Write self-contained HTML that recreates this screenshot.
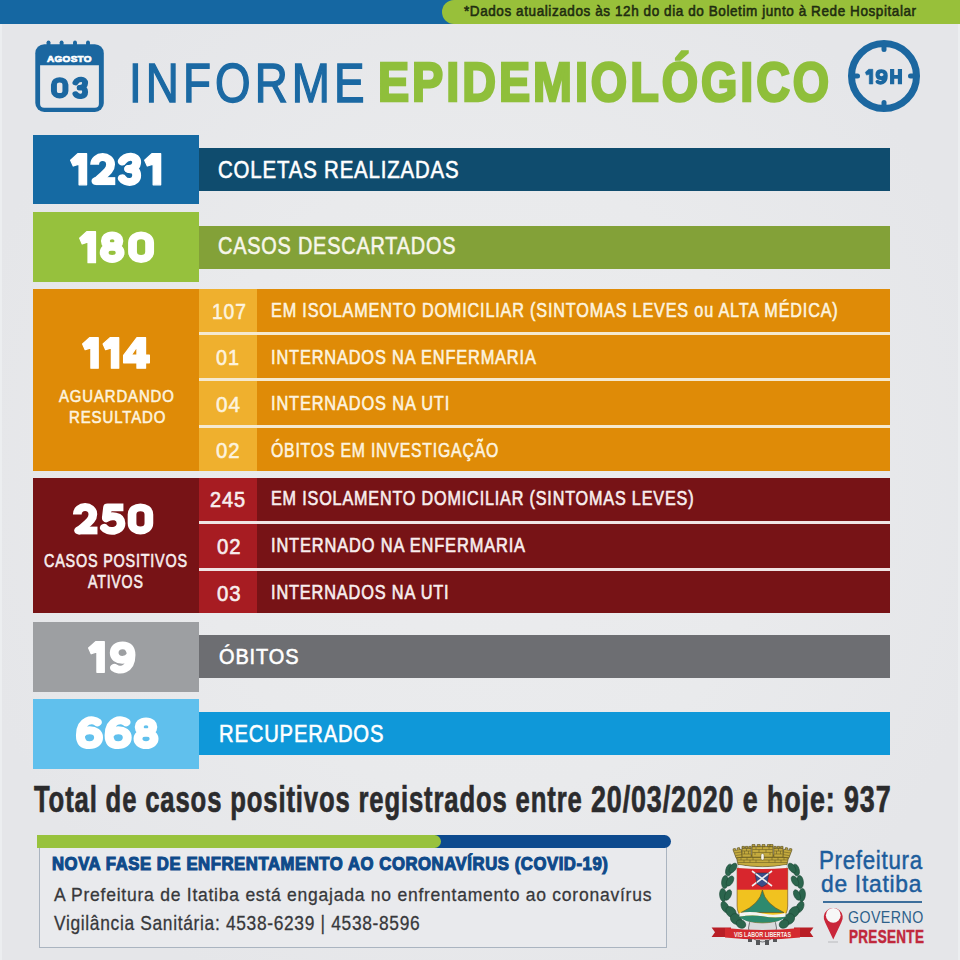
<!DOCTYPE html>
<html><head><meta charset="utf-8">
<style>
html,body{margin:0;padding:0;}
body{width:960px;height:960px;position:relative;overflow:hidden;background:radial-gradient(ellipse 55% 60% at 50% 50%, #ebecee 0%, #e9eaec 55%, #e5e6e9 100%);font-family:"Liberation Sans",sans-serif;}
.a{position:absolute;}
.t{position:absolute;white-space:nowrap;line-height:1;transform-origin:0 0;font-family:"Liberation Sans",sans-serif;}
</style></head>
<body>
<!-- edge strips -->
<div class="a" style="left:0;top:0;width:2px;height:960px;background:#eceef0"></div>
<div class="a" style="left:958px;top:0;width:2px;height:960px;background:#eceef0"></div>
<!-- top bar -->
<div class="a" style="left:0;top:0;width:960px;height:24px;background:#1567a2"></div>
<div class="a" style="left:442px;top:0px;width:518px;height:24px;background:#98c03a;border-radius:12px 0 0 12px"></div>

<!-- calendar icon -->
<svg class="a" style="left:30px;top:36px" width="80" height="80" viewBox="0 0 80 80">
  <g fill="#1b67a0">
    <circle cx="18.5" cy="6.5" r="1.9"/><circle cx="31.6" cy="6.5" r="1.9"/><circle cx="45" cy="6.5" r="1.9"/><circle cx="58" cy="6.5" r="1.9"/>
    <rect x="16.6" y="6.5" width="3.8" height="3"/><rect x="29.7" y="6.5" width="3.8" height="3"/><rect x="43.1" y="6.5" width="3.8" height="3"/><rect x="56.1" y="6.5" width="3.8" height="3"/>
  </g>
  <rect x="5.3" y="8.2" width="68.5" height="67.8" rx="9" fill="#1b67a0"/>
  <path d="M10.1 29.2 H68.9 V67.7 Q68.9 71.7 64.9 71.7 H14.1 Q10.1 71.7 10.1 67.7 Z" fill="#e7e8ea"/>
</svg>
<!-- clock icon -->
<svg class="a" style="left:840px;top:30px" width="90" height="90" viewBox="0 0 90 90">
  <circle cx="44" cy="46" r="32.5" fill="none" stroke="#1b67a0" stroke-width="7"/>
  <g fill="#1b67a0">
    <rect x="41.5" y="14" width="5" height="8" rx="2.5"/>
    <rect x="41.5" y="70" width="5" height="8" rx="2.5"/>
    <rect x="12" y="43.5" width="8" height="5" rx="2.5"/>
    <rect x="68" y="43.5" width="8" height="5" rx="2.5"/>
  </g>
</svg>

<!-- row 1 -->
<div class="a" style="left:33px;top:135px;width:166px;height:69px;background:#156aa3"></div>
<div class="a" style="left:199px;top:148px;width:691px;height:43px;background:#0f4c6e"></div>
<!-- row 2 -->
<div class="a" style="left:33px;top:212px;width:166px;height:70px;background:#96c13d"></div>
<div class="a" style="left:199px;top:226px;width:691px;height:43px;background:#83a138"></div>
<!-- row 3 orange -->
<div class="a" style="left:33px;top:289px;width:857px;height:182px;background:#df8b07"></div>
<div class="a" style="left:199px;top:289px;width:58px;height:182px;background:#efb02e"></div>
<div class="a" style="left:199px;top:332px;width:691px;height:3px;background:#f5e9cf"></div>
<div class="a" style="left:199px;top:378px;width:691px;height:3px;background:#f5e9cf"></div>
<div class="a" style="left:199px;top:425px;width:691px;height:3px;background:#f5e9cf"></div>
<!-- row 4 red -->
<div class="a" style="left:33px;top:478px;width:857px;height:135px;background:#771316"></div>
<div class="a" style="left:199px;top:478px;width:58px;height:135px;background:#a71c22"></div>
<div class="a" style="left:199px;top:521px;width:691px;height:3px;background:#f0e4e4"></div>
<div class="a" style="left:199px;top:568px;width:691px;height:3px;background:#f0e4e4"></div>
<!-- row 5 gray -->
<div class="a" style="left:33px;top:622px;width:166px;height:70px;background:#9d9fa2"></div>
<div class="a" style="left:199px;top:635px;width:691px;height:43px;background:#6d6e72"></div>
<!-- row 6 light blue -->
<div class="a" style="left:33px;top:699px;width:166px;height:70px;background:#60c0ed"></div>
<div class="a" style="left:199px;top:712px;width:691px;height:43px;background:#0f98d9"></div>

<!-- bottom info box -->
<div class="a" style="left:39px;top:841px;width:625.5px;height:105.7px;border:1.5px solid #aab4c0;border-top:none;background:#e9eaed"></div>
<div class="a" style="left:37px;top:835px;width:634px;height:12.5px;background:#0d4a8e;border-radius:0 6.5px 6.5px 0"></div>
<div class="a" style="left:37px;top:835px;width:404px;height:12.5px;background:#98c23c;border-radius:0 6.5px 6.5px 0"></div>

<!-- coat of arms -->
<svg class="a" style="left:705px;top:840px" width="115" height="110" viewBox="0 0 115 110">
  <!-- laurel left -->
  <g fill="#2b654d" stroke="#1d4a38" stroke-width="0.6">
    <ellipse cx="24" cy="30" rx="3.2" ry="6" transform="rotate(15 24 30)"/>
    <ellipse cx="28" cy="28" rx="3" ry="5.5" transform="rotate(35 28 28)"/>
    <ellipse cx="20" cy="42" rx="3.4" ry="6.5" transform="rotate(5 20 42)"/>
    <ellipse cx="25" cy="41" rx="3" ry="5.5" transform="rotate(30 25 41)"/>
    <ellipse cx="18" cy="55" rx="3.4" ry="6.5" transform="rotate(-5 18 55)"/>
    <ellipse cx="23" cy="55" rx="3" ry="5.5" transform="rotate(25 23 55)"/>
    <ellipse cx="20" cy="67" rx="3.4" ry="6" transform="rotate(-25 20 67)"/>
    <ellipse cx="26" cy="72" rx="4.5" ry="6" transform="rotate(-40 26 72)"/>
    <ellipse cx="31" cy="79" rx="5" ry="6" transform="rotate(-50 31 79)"/>
    <ellipse cx="36" cy="84" rx="4" ry="5" transform="rotate(-60 36 84)"/>
  </g>
  <!-- laurel right -->
  <g fill="#2b654d" stroke="#1d4a38" stroke-width="0.6" transform="translate(115 0) scale(-1 1)">
    <ellipse cx="24" cy="30" rx="3.2" ry="6" transform="rotate(15 24 30)"/>
    <ellipse cx="28" cy="28" rx="3" ry="5.5" transform="rotate(35 28 28)"/>
    <ellipse cx="20" cy="42" rx="3.4" ry="6.5" transform="rotate(5 20 42)"/>
    <ellipse cx="25" cy="41" rx="3" ry="5.5" transform="rotate(30 25 41)"/>
    <ellipse cx="18" cy="55" rx="3.4" ry="6.5" transform="rotate(-5 18 55)"/>
    <ellipse cx="23" cy="55" rx="3" ry="5.5" transform="rotate(25 23 55)"/>
    <ellipse cx="20" cy="67" rx="3.4" ry="6" transform="rotate(-25 20 67)"/>
    <ellipse cx="26" cy="72" rx="4.5" ry="6" transform="rotate(-40 26 72)"/>
    <ellipse cx="31" cy="79" rx="5" ry="6" transform="rotate(-50 31 79)"/>
    <ellipse cx="36" cy="84" rx="4" ry="5" transform="rotate(-60 36 84)"/>
  </g>
  <!-- gear -->
  <g fill="#d9dadc" stroke="#55575a" stroke-width="0.8">
    <circle cx="57.5" cy="88" r="14"/>
  </g>
  <g fill="#55575a">
    <rect x="43" y="97" width="4" height="5"/><rect x="51" y="100" width="4" height="5"/><rect x="60" y="100" width="4" height="5"/><rect x="68" y="97" width="4" height="5"/>
  </g>
  <!-- shield -->
  <path d="M32.1 28.2 H82.7 V66 Q82.7 82.7 57.4 82.9 Q32.1 82.7 32.1 66 Z" fill="#f1c21f" stroke="#6b4a1c" stroke-width="0.6"/>
  <rect x="32.1" y="28.2" width="50.6" height="21.5" fill="#d8262d"/>
  <path d="M57.4 50 Q55 64 36 72.5 L79 72.5 Q60 64 57.4 50 Z" fill="#2e8a6e" stroke="#5b4b1c" stroke-width="0.6"/>
  <path d="M34.5 73 Q46 71 57.5 73.5 Q69 76 80.5 73 V76.8 Q69 78.5 57.5 76.3 Q46 74.5 34.5 76.8 Z" fill="#f4f4f2"/>
  <path d="M34.5 76.8 Q46 74.5 57.5 76.3 Q69 78.5 80.5 76.8 Q76 82.6 57.4 82.8 Q39 82.6 34.5 76.8 Z" fill="#2e8a6e"/>
  <!-- emblem -->
  <path d="M50 33 L64 33 L62 44 L57 47 L52 44 Z" fill="#3a4f8a"/>
  <path d="M47 31 L67 46 M67 31 L47 46" stroke="#f0f0f0" stroke-width="1.6"/>
  <path d="M50 33 L64 33 L62 44 L57 47 L52 44 Z" fill="none" stroke="#2a2a3a" stroke-width="0.5"/>
  <!-- crown -->
  <g fill="#c4aa3e" stroke="#5b5020" stroke-width="0.7" stroke-linejoin="round">
    <path d="M31 15 H84 L82 24.5 Q57.5 29 33 24.5 Z"/>
    <path d="M28.3 10.6 L36.2 9.2 L37.6 17 L31.2 18.2 Z"/>
    <path d="M86.7 10.6 L78.8 9.2 L77.4 17 L83.8 18.2 Z"/>
    <rect x="37" y="8.2" width="9.2" height="9"/>
    <rect x="68.8" y="8.2" width="9.2" height="9"/>
    <rect x="47" y="6.6" width="21" height="10.6"/>
    <path d="M28.3 10.6 L28.1 8.9 L30.3 8.5 L30.5 9.9 M32.4 9.6 L32.2 8 L34.4 7.6 L34.6 9.3"/>
    <path d="M86.7 10.6 L86.9 8.9 L84.7 8.5 L84.5 9.9 M82.6 9.6 L82.8 8 L80.6 7.6 L80.4 9.3"/>
    <rect x="37" y="6.4" width="2.4" height="1.8"/><rect x="40.4" y="6.4" width="2.4" height="1.8"/><rect x="43.8" y="6.4" width="2.4" height="1.8"/>
    <rect x="68.8" y="6.4" width="2.4" height="1.8"/><rect x="72.2" y="6.4" width="2.4" height="1.8"/><rect x="75.6" y="6.4" width="2.4" height="1.8"/>
    <rect x="47" y="4.6" width="3" height="2"/><rect x="52.2" y="4.6" width="3" height="2"/><rect x="57.5" y="4.6" width="3" height="2" transform="translate(-0.5 0)"/><rect x="62.3" y="4.6" width="3" height="2"/><rect x="65" y="4.6" width="3" height="2"/>
  </g>
  <g stroke="#6d6024" stroke-width="0.6" fill="none">
    <path d="M37.5 11 H45.7 M69.3 11 H77.5 M47.5 9.5 H67.5 M47.5 12.5 H67.5 M37.5 14 H45.7 M69.3 14 H77.5 M32 20 H83 M33 22.5 H82 M31.5 17.5 H83.5 M29.5 13 L36.5 12 M85.5 13 L78.5 12 M30.5 15.6 L37 14.6 M84.5 15.6 L78 14.6"/>
    <path d="M41.5 8.2 V11 M39.5 11 V14 M43.5 11 V14 M73.5 8.2 V11 M71.5 11 V14 M75.5 11 V14 M51 6.6 V9.5 M57.5 6.6 V9.5 M64 6.6 V9.5 M54 9.5 V12.5 M61 9.5 V12.5 M50 12.5 V15 M65 12.5 V15 M36 17.5 V20 M42 17.5 V20 M48 17.5 V20 M67 17.5 V20 M73 17.5 V20 M79 17.5 V20 M39 20 V22.5 M45 20 V22.5 M51 20 V22.5 M64 20 V22.5 M70 20 V22.5 M76 20 V22.5"/>
  </g>
  <rect x="56" y="13.5" width="3" height="6.5" rx="1.5" fill="#f8f6ee" stroke="#5b5020" stroke-width="0.4"/>
  <path d="M34 25 Q57.5 29.5 81 25 L81 28 Q57.5 30 34 28 Z" fill="#efefed"/>
  <!-- ribbon -->
  <path d="M6.6 87.4 L26 87.4 L26 97 L6.6 97 L10 92.2 Z" fill="#b81e26"/>
  <path d="M108.4 87.4 L89 87.4 L89 97 L108.4 97 L105 92.2 Z" fill="#b81e26"/>
  <path d="M20 88 Q57.5 92 95 88 L95 97.5 Q57.5 101.5 20 97.5 Z" fill="#d42a2f"/>
  <text x="29" y="97.3" font-family="Liberation Sans" font-weight="700" font-size="6.6" fill="#f6efe9" textLength="57" lengthAdjust="spacingAndGlyphs">VIS  LABOR  LIBERTAS</text>
</svg>

<!-- pin icon -->
<svg class="a" style="left:820px;top:903px" width="28" height="42" viewBox="0 0 28 42">
  <path d="M13.25 36.4 L5.2 19.5 A9.5 9.5 0 1 1 21.3 19.5 Z" fill="#c9263a"/>
  <circle cx="13.25" cy="12.3" r="7.4" fill="#f7f7f7"/>
  <rect x="8" y="38.5" width="10" height="1" fill="#b9babd"/>
</svg>
<!-- blue line -->
<div class="a" style="left:822.5px;top:901px;width:99px;height:1.6px;background:#3d6f9c"></div>

<div class="t" style="left:464.27px;top:5.27px;font-size:13.88px;font-weight:400;color:#1f2d10;transform:scaleX(0.9731);-webkit-text-stroke:0.55px #1f2d10;letter-spacing:0.6px;">*Dados atualizados às 12h do dia do Boletim junto à Rede Hospitalar</div>
<div class="t" style="left:47.35px;top:53.63px;font-size:9.59px;font-weight:700;color:#fff;transform:scaleX(1.0400);-webkit-text-stroke:0.7px #fff;letter-spacing:0.3px;">AGOSTO</div>
<div class="t" style="left:128.67px;top:54.55px;font-size:55.81px;font-weight:400;color:#1b69a3;transform:scaleX(0.8200);-webkit-text-stroke:1.4px #1b69a3;letter-spacing:5px;">INFORME</div>
<div class="t" style="left:377.56px;top:55.02px;font-size:55.38px;font-weight:700;color:#8fbf3b;transform:scaleX(0.8439);-webkit-text-stroke:2.6px #8fbf3b;letter-spacing:3.5px;">EPIDEMIOLÓGICO</div>
<div class="t" style="left:218.40px;top:157.80px;font-size:23.98px;font-weight:400;color:#fff;transform:scaleX(0.8503);-webkit-text-stroke:0.6px #fff;letter-spacing:1.0px;">COLETAS REALIZADAS</div>
<div class="t" style="left:218.44px;top:234.08px;font-size:24.71px;font-weight:400;color:#f7f6ea;transform:scaleX(0.8046);-webkit-text-stroke:0.6px #f7f6ea;letter-spacing:1.0px;">CASOS DESCARTADOS</div>
<div class="t" style="left:59.26px;top:387.58px;font-size:17.15px;font-weight:400;color:#fdf3df;transform:scaleX(0.8705);-webkit-text-stroke:0.6px #fdf3df;letter-spacing:1.0px;">AGUARDANDO</div>
<div class="t" style="left:68.59px;top:408.68px;font-size:17.15px;font-weight:400;color:#fdf3df;transform:scaleX(0.8751);-webkit-text-stroke:0.6px #fdf3df;letter-spacing:1.0px;">RESULTADO</div>
<div class="t" style="left:212.20px;top:299.71px;font-size:22.67px;font-weight:400;color:#fdf3df;transform:scaleX(0.8513);-webkit-text-stroke:0.6px #fdf3df;letter-spacing:1.0px;">107</div>
<div class="t" style="left:270.82px;top:301.31px;font-size:19.48px;font-weight:400;color:#fdf3df;transform:scaleX(0.8322);-webkit-text-stroke:0.6px #fdf3df;letter-spacing:1.0px;">EM ISOLAMENTO DOMICILIAR (SINTOMAS LEVES ou ALTA MÉDICA)</div>
<div class="t" style="left:215.93px;top:346.21px;font-size:22.67px;font-weight:400;color:#fdf3df;transform:scaleX(0.8747);-webkit-text-stroke:0.6px #fdf3df;letter-spacing:1.0px;">01</div>
<div class="t" style="left:270.81px;top:347.81px;font-size:19.48px;font-weight:400;color:#fdf3df;transform:scaleX(0.8405);-webkit-text-stroke:0.6px #fdf3df;letter-spacing:1.0px;">INTERNADOS NA ENFERMARIA</div>
<div class="t" style="left:215.95px;top:392.71px;font-size:22.67px;font-weight:400;color:#fdf3df;transform:scaleX(0.9127);-webkit-text-stroke:0.6px #fdf3df;letter-spacing:1.0px;">04</div>
<div class="t" style="left:270.81px;top:394.31px;font-size:19.48px;font-weight:400;color:#fdf3df;transform:scaleX(0.8416);-webkit-text-stroke:0.6px #fdf3df;letter-spacing:1.0px;">INTERNADOS NA UTI</div>
<div class="t" style="left:216.15px;top:439.11px;font-size:22.67px;font-weight:400;color:#fdf3df;transform:scaleX(0.8987);-webkit-text-stroke:0.6px #fdf3df;letter-spacing:1.0px;">02</div>
<div class="t" style="left:270.64px;top:440.71px;font-size:19.48px;font-weight:400;color:#fdf3df;transform:scaleX(0.8108);-webkit-text-stroke:0.6px #fdf3df;letter-spacing:1.0px;">ÓBITOS EM INVESTIGAÇÃO</div>
<div class="t" style="left:44.42px;top:553.27px;font-size:17.88px;font-weight:400;color:#f8eeee;transform:scaleX(0.8049);-webkit-text-stroke:0.6px #f8eeee;letter-spacing:1.0px;">CASOS POSITIVOS</div>
<div class="t" style="left:88.23px;top:574.27px;font-size:17.88px;font-weight:400;color:#f8eeee;transform:scaleX(0.7932);-webkit-text-stroke:0.6px #f8eeee;letter-spacing:1.0px;">ATIVOS</div>
<div class="t" style="left:209.87px;top:487.51px;font-size:22.67px;font-weight:400;color:#f8eeee;transform:scaleX(0.8792);-webkit-text-stroke:0.6px #f8eeee;letter-spacing:1.0px;">245</div>
<div class="t" style="left:270.82px;top:489.11px;font-size:19.48px;font-weight:400;color:#f8eeee;transform:scaleX(0.8305);-webkit-text-stroke:0.6px #f8eeee;letter-spacing:1.0px;">EM ISOLAMENTO DOMICILIAR (SINTOMAS LEVES)</div>
<div class="t" style="left:217.15px;top:534.51px;font-size:22.67px;font-weight:400;color:#f8eeee;transform:scaleX(0.8987);-webkit-text-stroke:0.6px #f8eeee;letter-spacing:1.0px;">02</div>
<div class="t" style="left:270.81px;top:536.11px;font-size:19.48px;font-weight:400;color:#f8eeee;transform:scaleX(0.8437);-webkit-text-stroke:0.6px #f8eeee;letter-spacing:1.0px;">INTERNADO NA ENFERMARIA</div>
<div class="t" style="left:217.13px;top:581.71px;font-size:22.67px;font-weight:400;color:#f8eeee;transform:scaleX(0.9006);-webkit-text-stroke:0.6px #f8eeee;letter-spacing:1.0px;">03</div>
<div class="t" style="left:270.81px;top:583.31px;font-size:19.48px;font-weight:400;color:#f8eeee;transform:scaleX(0.8387);-webkit-text-stroke:0.6px #f8eeee;letter-spacing:1.0px;">INTERNADOS NA UTI</div>
<div class="t" style="left:219.17px;top:645.53px;font-size:22.53px;font-weight:400;color:#fff;transform:scaleX(0.8863);-webkit-text-stroke:0.6px #fff;letter-spacing:1.0px;">ÓBITOS</div>
<div class="t" style="left:219.21px;top:722.40px;font-size:23.98px;font-weight:400;color:#fff;transform:scaleX(0.8424);-webkit-text-stroke:0.6px #fff;letter-spacing:1.0px;">RECUPERADOS</div>
<div class="t" style="left:34.35px;top:781.59px;font-size:36.34px;font-weight:700;color:#2b2b2d;transform:scaleX(0.7065);-webkit-text-stroke:0.7px #2b2b2d;letter-spacing:1.2px;">Total de casos positivos registrados entre</div>
<div class="t" style="left:591.02px;top:781.59px;font-size:36.34px;font-weight:700;color:#2b2b2d;transform:scaleX(0.7400);-webkit-text-stroke:0.7px #2b2b2d;letter-spacing:1.2px;">20/03/2020 e hoje: 937</div>
<div class="t" style="left:52.18px;top:855.82px;font-size:17.88px;font-weight:700;color:#0f4a8a;transform:scaleX(0.9349);-webkit-text-stroke:1.1px #0f4a8a;letter-spacing:0.6px;">NOVA FASE DE ENFRENTAMENTO AO CORONAVÍRUS (COVID-19)</div>
<div class="t" style="left:53.74px;top:885.72px;font-size:18.46px;font-weight:400;color:#37383b;transform:scaleX(0.9491);-webkit-text-stroke:0.3px #37383b;letter-spacing:0.8px;">A Prefeitura de Itatiba está engajada no enfrentamento ao coronavírus</div>
<div class="t" style="left:53.72px;top:912.63px;font-size:20.93px;font-weight:400;color:#37383b;transform:scaleX(0.8312);-webkit-text-stroke:0.3px #37383b;letter-spacing:0.8px;">Vigilância Sanitária: 4538-6239 | 4538-8596</div>
<div class="t" style="left:819.46px;top:848.00px;font-size:25.58px;font-weight:400;color:#1d5d9c;transform:scaleX(0.8726);-webkit-text-stroke:0.5px #1d5d9c;letter-spacing:0.8px;">Prefeitura</div>
<div class="t" style="left:820.50px;top:871.83px;font-size:24.71px;font-weight:400;color:#1d5d9c;transform:scaleX(0.9215);-webkit-text-stroke:0.5px #1d5d9c;letter-spacing:0.8px;">de Itatiba</div>
<div class="t" style="left:847.99px;top:908.50px;font-size:16.42px;font-weight:400;color:#2d5f8a;transform:scaleX(0.8654);letter-spacing:0.5px;">GOVERNO</div>
<div class="t" style="left:848.87px;top:926.70px;font-size:19.26px;font-weight:700;color:#c0283c;transform:scaleX(0.6979);-webkit-text-stroke:0.5px #c0283c;letter-spacing:0.5px;">PRESENTE</div>
<svg class="a" style="left:68.00px;top:151.10px" width="95.30" height="36.50" viewBox="-6.154 -6.154 293.231 112.308"><g transform="translate(0.00 0)"><path d="M 2 22 L 24 2 L 51 2 L 51 98 L 28 98 L 28 34 L 10 40 Z" fill="#fff" stroke="#fff" stroke-width="4" stroke-linejoin="round"/></g><g transform="translate(62.31 0)"><g transform="scale(1.12 1)"><path d="M 12.054 36.000 C 12.054 5.000 55.804 5.000 55.804 35.000 C 55.804 52.000 44.643 60.000 17.857 86.500" fill="none" stroke="#fff" stroke-width="24.5" stroke-linecap="butt" stroke-linejoin="round"/></g><g transform="scale(1.12 1)"><path d="M 17.857 86.500 L 15.625 86.500" fill="none" stroke="#fff" stroke-width="24.5" stroke-linecap="round" stroke-linejoin="round"/></g><g transform="scale(1.12 1)"><path d="M 16.071 86.500 H 68.750" fill="none" stroke="#fff" stroke-width="24.5" stroke-linecap="butt" stroke-linejoin="round"/></g></g><g transform="translate(148.62 0)"><g transform="scale(1.12 1)"><path d="M 10.714 26.000 C 21.429 6.000 50.446 6.000 50.446 28.000 C 50.446 42.000 41.071 49.000 28.571 49.000" fill="none" stroke="#fff" stroke-width="24.5" stroke-linecap="round" stroke-linejoin="round"/></g><g transform="scale(1.12 1)"><path d="M 28.571 49.000 C 42.857 49.000 50.446 54.000 50.446 69.000 C 50.446 94.000 19.643 94.000 10.714 78.000" fill="none" stroke="#fff" stroke-width="24.5" stroke-linecap="round" stroke-linejoin="round"/></g></g><g transform="translate(227.92 0)"><path d="M 2 22 L 24 2 L 51 2 L 51 98 L 28 98 L 28 34 L 10 40 Z" fill="#fff" stroke="#fff" stroke-width="4" stroke-linejoin="round"/></g></svg>
<svg class="a" style="left:76.90px;top:228.90px" width="79.00" height="36.30" viewBox="-6.192 -6.192 244.582 112.384"><g transform="translate(0.00 0)"><path d="M 2 22 L 24 2 L 51 2 L 51 98 L 28 98 L 28 34 L 10 40 Z" fill="#fff" stroke="#fff" stroke-width="4" stroke-linejoin="round"/></g><g transform="translate(63.60 0)"><g transform="scale(1.12 1)"><path d="M 34.821 13.500 C 9.821 13.500 9.821 48.000 34.821 48.000 C 59.821 48.000 59.821 13.500 34.821 13.500 Z" fill="none" stroke="#fff" stroke-width="24.5" stroke-linecap="round" stroke-linejoin="round"/></g><g transform="scale(1.12 1)"><path d="M 34.821 48.000 C 5.357 48.000 5.357 86.500 34.821 86.500 C 64.286 86.500 64.286 48.000 34.821 48.000 Z" fill="none" stroke="#fff" stroke-width="24.5" stroke-linecap="round" stroke-linejoin="round"/></g></g><g transform="translate(152.20 0)"><g transform="scale(1.12 1)"><path d="M 12.054 36.000 C 12.054 6.000 59.375 6.000 59.375 36.000 V 64.000 C 59.375 94.000 12.054 94.000 12.054 64.000 Z" fill="none" stroke="#fff" stroke-width="24.5" stroke-linecap="round" stroke-linejoin="round"/></g></g></svg>
<svg class="a" style="left:79.70px;top:334.60px" width="72.00" height="35.80" viewBox="-6.289 -6.289 226.415 112.579"><g transform="translate(0.00 0)"><path d="M 2 22 L 24 2 L 51 2 L 51 98 L 28 98 L 28 34 L 10 40 Z" fill="#fff" stroke="#fff" stroke-width="4" stroke-linejoin="round"/></g><g transform="translate(64.42 0)"><path d="M 2 22 L 24 2 L 51 2 L 51 98 L 28 98 L 28 34 L 10 40 Z" fill="#fff" stroke="#fff" stroke-width="4" stroke-linejoin="round"/></g><g transform="translate(128.84 0)"><path d="M 44 2 L 71 2 L 71 57 L 83 57 L 83 81 L 71 81 L 71 98 L 44 98 L 44 81 L 2 81 L 2 58 Z M 44 57 L 44 30 L 26 57 Z" fill="#fff" fill-rule="evenodd" stroke="#fff" stroke-width="4" stroke-linejoin="round"/></g></svg>
<svg class="a" style="left:71.30px;top:500.80px" width="84.20" height="35.80" viewBox="-6.289 -6.289 264.780 112.579"><g transform="translate(0.00 0)"><g transform="scale(1.12 1)"><path d="M 12.054 36.000 C 12.054 5.000 55.804 5.000 55.804 35.000 C 55.804 52.000 44.643 60.000 17.857 86.500" fill="none" stroke="#fff" stroke-width="24.5" stroke-linecap="butt" stroke-linejoin="round"/></g><g transform="scale(1.12 1)"><path d="M 17.857 86.500 L 15.625 86.500" fill="none" stroke="#fff" stroke-width="24.5" stroke-linecap="round" stroke-linejoin="round"/></g><g transform="scale(1.12 1)"><path d="M 16.071 86.500 H 68.750" fill="none" stroke="#fff" stroke-width="24.5" stroke-linecap="butt" stroke-linejoin="round"/></g></g><g transform="translate(84.60 0)"><g transform="scale(1.12 1)"><path d="M 66.071 13.500 H 21.429 L 17.857 48.000" fill="none" stroke="#fff" stroke-width="24.5" stroke-linecap="butt" stroke-linejoin="round"/></g><g transform="scale(1.12 1)"><path d="M 17.857 48.000 C 30.357 38.000 59.375 38.000 59.375 64.000 C 59.375 93.000 21.429 93.000 12.054 78.000" fill="none" stroke="#fff" stroke-width="24.5" stroke-linecap="round" stroke-linejoin="round"/></g></g><g transform="translate(172.20 0)"><g transform="scale(1.12 1)"><path d="M 12.054 36.000 C 12.054 6.000 59.375 6.000 59.375 36.000 V 64.000 C 59.375 94.000 12.054 94.000 12.054 64.000 Z" fill="none" stroke="#fff" stroke-width="24.5" stroke-linecap="round" stroke-linejoin="round"/></g></g></svg>
<svg class="a" style="left:86.30px;top:638.80px" width="51.40" height="35.90" viewBox="-6.270 -6.270 161.129 112.539"><g transform="translate(0.00 0)"><path d="M 2 22 L 24 2 L 51 2 L 51 98 L 28 98 L 28 34 L 10 40 Z" fill="#fff" stroke="#fff" stroke-width="4" stroke-linejoin="round"/></g><g transform="translate(68.59 0)"><g transform="rotate(180 40 50)"><g transform="scale(1.12 1)"><path d="M 58.929 16.000 C 46.429 5.000 12.054 6.000 12.054 56.000 C 12.054 78.000 21.429 86.500 35.714 86.500 C 50.000 86.500 59.375 78.000 59.375 63.000 C 59.375 48.000 50.000 41.000 36.607 41.000 C 26.786 41.000 17.857 46.000 12.946 55.000" fill="none" stroke="#fff" stroke-width="24.5" stroke-linecap="round" stroke-linejoin="round"/></g></g></g></svg>
<svg class="a" style="left:74.10px;top:715.40px" width="86.70" height="36.50" viewBox="-6.154 -6.154 266.769 112.308"><g transform="translate(0.00 0)"><g transform="scale(1.12 1)"><path d="M 58.929 16.000 C 46.429 5.000 12.054 6.000 12.054 56.000 C 12.054 78.000 21.429 86.500 37.054 86.500 C 51.786 86.500 62.054 78.000 62.054 63.000 C 62.054 48.000 51.786 41.000 37.500 41.000 C 26.786 41.000 17.857 46.000 12.946 55.000" fill="none" stroke="#fff" stroke-width="24.5" stroke-linecap="round" stroke-linejoin="round"/></g></g><g transform="translate(88.23 0)"><g transform="scale(1.12 1)"><path d="M 58.929 16.000 C 46.429 5.000 12.054 6.000 12.054 56.000 C 12.054 78.000 21.429 86.500 37.054 86.500 C 51.786 86.500 62.054 78.000 62.054 63.000 C 62.054 48.000 51.786 41.000 37.500 41.000 C 26.786 41.000 17.857 46.000 12.946 55.000" fill="none" stroke="#fff" stroke-width="24.5" stroke-linecap="round" stroke-linejoin="round"/></g></g><g transform="translate(176.46 0)"><g transform="scale(1.12 1)"><path d="M 34.821 13.500 C 9.821 13.500 9.821 48.000 34.821 48.000 C 59.821 48.000 59.821 13.500 34.821 13.500 Z" fill="none" stroke="#fff" stroke-width="24.5" stroke-linecap="round" stroke-linejoin="round"/></g><g transform="scale(1.12 1)"><path d="M 34.821 48.000 C 5.357 48.000 5.357 86.500 34.821 86.500 C 64.286 86.500 64.286 48.000 34.821 48.000 Z" fill="none" stroke="#fff" stroke-width="24.5" stroke-linecap="round" stroke-linejoin="round"/></g></g></svg>
<svg class="a" style="left:49.25px;top:74.80px" width="41.05" height="25.70" viewBox="-9.217 -9.217 189.171 118.433"><g transform="translate(0.00 0)"><g transform="scale(1.12 1)"><path d="M 12.054 36.000 C 12.054 6.000 59.375 6.000 59.375 36.000 V 64.000 C 59.375 94.000 12.054 94.000 12.054 64.000 Z" fill="none" stroke="#1b67a0" stroke-width="24.5" stroke-linecap="round" stroke-linejoin="round"/></g></g><g transform="translate(100.74 0)"><g transform="scale(1.12 1)"><path d="M 10.714 26.000 C 21.429 6.000 50.446 6.000 50.446 28.000 C 50.446 42.000 41.071 49.000 28.571 49.000" fill="none" stroke="#1b67a0" stroke-width="24.5" stroke-linecap="round" stroke-linejoin="round"/></g><g transform="scale(1.12 1)"><path d="M 28.571 49.000 C 42.857 49.000 50.446 54.000 50.446 69.000 C 50.446 94.000 19.643 94.000 10.714 78.000" fill="none" stroke="#1b67a0" stroke-width="24.5" stroke-linecap="round" stroke-linejoin="round"/></g></g></svg>
<svg class="a" style="left:863.30px;top:66.90px" width="41.00" height="19.30" viewBox="-13.072 -13.072 267.974 126.144"><g transform="translate(0.00 0)"><path d="M 2 22 L 24 2 L 51 2 L 51 98 L 28 98 L 28 34 L 10 40 Z" fill="#1b67a0" stroke="#1b67a0" stroke-width="4" stroke-linejoin="round"/></g><g transform="translate(68.42 0)"><g transform="rotate(180 40 50)"><g transform="scale(1.12 1)"><path d="M 58.929 16.000 C 46.429 5.000 12.054 6.000 12.054 56.000 C 12.054 78.000 21.429 86.500 35.714 86.500 C 50.000 86.500 59.375 78.000 59.375 63.000 C 59.375 48.000 50.000 41.000 36.607 41.000 C 26.786 41.000 17.857 46.000 12.946 55.000" fill="none" stroke="#1b67a0" stroke-width="24.5" stroke-linecap="round" stroke-linejoin="round"/></g></g></g><g transform="translate(163.83 0)"><g transform="scale(1.12 1)"><path d="M 12.054 0.000 V 100.000 M 57.589 0.000 V 100.000 M 12.054 51.000 H 57.589" fill="none" stroke="#1b67a0" stroke-width="24.5" stroke-linecap="butt" stroke-linejoin="round"/></g></g></svg>
</body></html>
